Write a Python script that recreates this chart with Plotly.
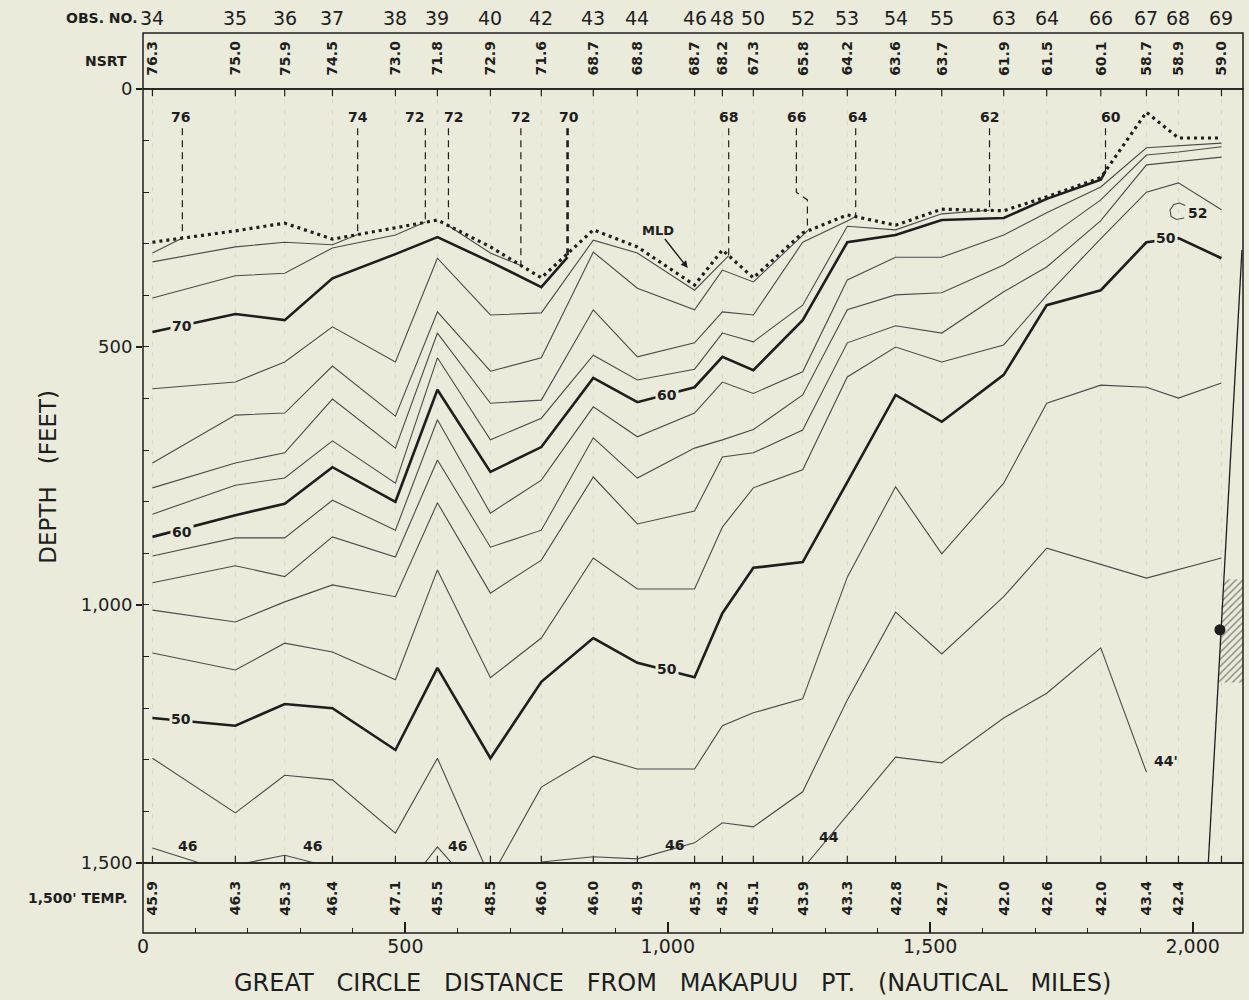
import plotly.graph_objects as go

FONT = "DejaVu Sans"
BG = "#ebebdb"
INK = "#1e1e1e"
THIN = "#4a4a4a"

# ---------------- data ----------------
OBS_NO = ["34", "35", "36", "37", "38", "39", "40", "42", "43", "44", "46", "48",
          "50", "52", "53", "54", "55", "63", "64", "66", "67", "68", "69"]
STATION_DIST = [18, 176, 270, 361, 481, 561, 662, 759, 858, 942, 1051, 1104,
                1163, 1257, 1342, 1434, 1522, 1640, 1722, 1825, 1912, 1973, 2055]
NSRT = [76.3, 75.0, 75.9, 74.5, 73.0, 71.8, 72.9, 71.6, 68.7, 68.8, 68.7, 68.2,
        67.3, 65.8, 64.2, 63.6, 63.7, 61.9, 61.5, 60.1, 58.7, 58.9, 59.0]
TEMP_1500 = [45.9, 46.3, 45.3, 46.4, 47.1, 45.5, 48.5, 46.0, 46.0, 45.9, 45.3,
             45.2, 45.1, 43.9, 43.3, 42.8, 42.7, 42.0, 42.6, 42.0, 43.4, 42.4]

# mixed layer depth (dotted)
MLD_DEPTH = [297, 275, 260, 291, 269, 254, 306, 366, 273, 306, 380, 312,
             366, 279, 244, 264, 233, 236, 209, 172, 45, 95, 95]

# isotherms below the mixed layer (distance nm, depth ft)
T76_X = [18, 75]
T76_D = [318, 289]
T74_X = [18, 176, 270, 361, 409]
T74_D = [335, 306, 297, 302, 282]
T72_X = [18, 176, 270, 361, 481, 538, None, 582, 662, 720]
T72_D = [405, 362, 357, 308, 283, 258, None, 265, 318, 342]
T70_X = [18, 176, 270, 361, 481, 561, 662, 759, 809]
T70_D = [471, 436, 448, 367, 320, 287, 335, 384, 326]
T68_X = [18, 176, 270, 361, 481, 561, 662, 759, 858, 942, 1051, 1116]
T68_D = [581, 568, 529, 461, 529, 328, 438, 434, 293, 318, 390, 323]
T66_X = [18, 176, 270, 361, 481, 561, 662, 759, 858, 942, 1051, 1104, 1163, 1266]
T66_D = [725, 632, 628, 537, 634, 432, 547, 521, 316, 386, 428, 351, 374, 275]
T64_X = [18, 176, 270, 361, 481, 561, 662, 759, 858, 942, 1051, 1104, 1163, 1257, 1342, 1358]
T64_D = [773, 725, 705, 601, 696, 473, 609, 603, 428, 519, 492, 432, 438, 297, 256, 247]
T62_X = [18, 176, 270, 361, 481, 561, 662, 759, 858, 942, 1051, 1104, 1163, 1257,
         1342, 1434, 1522, 1613]
T62_D = [824, 768, 754, 682, 764, 521, 680, 638, 516, 564, 543, 473, 490, 419,
         266, 273, 242, 235]
T60_X = [18, 176, 270, 361, 481, 561, 662, 759, 858, 942, 1051, 1104, 1163, 1257,
         1342, 1434, 1522, 1640, 1722, 1825, 1834]
T60_D = [868, 826, 804, 733, 800, 583, 742, 694, 560, 607, 578, 519, 545, 448,
         297, 283, 254, 250, 213, 176, 159]
T58_D = [905, 870, 870, 797, 855, 641, 822, 758, 616, 674, 628, 568, 590, 548,
         370, 326, 326, 283, 240, 190, 114, 110, 105]
T56_D = [957, 924, 945, 868, 907, 719, 888, 855, 676, 754, 696, 680, 660, 593,
         428, 399, 395, 341, 290, 215, 128, 122, 112]
T54_D = [1010, 1033, 994, 961, 984, 802, 977, 913, 752, 843, 818, 713, 705, 661,
         492, 459, 473, 393, 345, 255, 147, 140, 132]
T52_D = [1093, 1126, 1074, 1091, 1145, 932, 1141, 1064, 909, 969, 969, 849, 773, 738,
         558, 500, 529, 496, 400, 290, 200, 182, 234]
T50_D = [1219, 1234, 1192, 1200, 1281, 1122, 1297, 1149, 1064, 1112, 1140, 1016, 928, 917,
         762, 593, 645, 554, 419, 390, 297, 289, 328]
T48_D = [1297, 1403, 1330, 1339, 1442, 1297, 1530, 1353, 1293, 1318, 1318, 1234, 1209, 1182,
         946, 771, 901, 764, 609, 574, 578, 599, 570]
T46_X = [18, 108, None, 196, 270, 327, None, 537, 561, 588, None,
         759, 858, 942, 1051, 1104, 1163, 1257, 1342, 1434, 1522, 1640, 1722, 1912, 1973, 2055]
T46_D = [1471, 1500, None, 1500, 1485, 1500, None, 1500, 1469, 1500, None,
         1498, 1488, 1492, 1461, 1422, 1430, 1362, 1184, 1014, 1095, 984, 890, 948, 932, 909]
T44_X = [1266, 1434, 1522, 1640, 1722, 1825, 1912]
T44_D = [1500, 1295, 1306, 1219, 1171, 1083, 1324]
LOOP52_X = [1986, 1975, 1964, 1957, 1959, 1969, 1984]
LOOP52_D = [226, 221, 224, 235, 247, 253, 250]

# vertical (surface) isotherm crossings in the mixed layer
SURF_LABEL = ["76", "74", "72", "72", "72", "70", "68", "66", "64", "62", "60"]
SURF_LABEL_X = [71, 409, 517, 592, 720, 811, 1116, 1245, 1362, 1613, 1844]
SURF_X = [75, 409, 538, 582, 720, 809, 1116, 1266, 1358, 1613, 1834]
SURF_TOP = [76, 76, 76, 76, 76, 76, 76, 76, 76, 76, 76]
SURF_BOTTOM = [289, 282, 258, 265, 342, 326, 323, 275, 247, 235, 159]
JOG66_X = [1245, 1245, 1266]
JOG66_D = [76, 200, 215]

# in-line contour labels
CLABEL_TEXT = ["70", "60", "50", "60", "50", "50"]
CLABEL_X = [74, 75, 73, 998, 998, 1950]
CLABEL_D = [459, 858, 1221, 593, 1124, 289]
FLABEL_TEXT = ["46", "46", "46", "46", "44", "44'", "52"]
FLABEL_X = [85, 323, 600, 1013, 1308, 1950, 2010]
FLABEL_D = [1468, 1468, 1468, 1466, 1450, 1302, 240]

# continental slope marker
SHELF_X = [2094, 2030]
SHELF_D = [312, 1498]
HATCH_X = [2060, 2096, 2096, 2049, 2060]
HATCH_D = [950, 950, 1150, 1150, 950]
DOT_X = [2052]
DOT_D = [1048]

# ---------------- figure ----------------
fig = go.Figure()


def add_line(xs, ds, width=1.1, color=THIN, dash="solid"):
    fig.add_trace(go.Scatter(x=xs, y=ds, mode="lines",
                             line=dict(color=color, width=width, dash=dash),
                             hoverinfo="skip", showlegend=False,
                             connectgaps=False))


# faint station guides and station ticks
gx, gy, tx, ty = [], [], [], []
for d in STATION_DIST:
    gx += [d, d, None]
    gy += [20, 1480, None]
    tx += [d, d, None, d, d, None]
    ty += [0, 14, None, 1486, 1500, None]
add_line(gx, gy, 0.8, "#d3d3c3", "4px,7px")
add_line(tx, ty, 1.2, INK)

# hatch & shelf
fig.add_trace(go.Scatter(x=HATCH_X, y=HATCH_D, mode="lines", fill="toself",
                         fillcolor="rgba(0,0,0,0)",
                         fillpattern=dict(shape="/", fgcolor="#333333",
                                          bgcolor="rgba(0,0,0,0)", size=5, solidity=0.3),
                         line=dict(width=0), hoverinfo="skip", showlegend=False))
add_line(SHELF_X, SHELF_D, 1.3, INK)
fig.add_trace(go.Scatter(x=DOT_X, y=DOT_D, mode="markers",
                         marker=dict(color=INK, size=11), hoverinfo="skip",
                         showlegend=False))

# thin isotherms
for xs, ds in [(T76_X, T76_D), (T74_X, T74_D), (T72_X, T72_D), (T68_X, T68_D),
               (T66_X, T66_D), (T64_X, T64_D), (T62_X, T62_D),
               (STATION_DIST, T58_D), (STATION_DIST, T56_D), (STATION_DIST, T54_D),
               (STATION_DIST, T52_D), (STATION_DIST, T48_D), (T46_X, T46_D),
               (T44_X, T44_D), (LOOP52_X, LOOP52_D)]:
    add_line(xs, ds, 1.1, THIN)

# bold isotherms
for xs, ds in [(T70_X, T70_D), (T60_X, T60_D), (STATION_DIST, T50_D)]:
    add_line(xs, ds, 2.6, INK)

# mixed layer depth
add_line(STATION_DIST, MLD_DEPTH, 3.2, INK, "3px,4px")

# surface isotherm crossings (dashed verticals)
for i, x in enumerate(SURF_X):
    if SURF_LABEL[i] == "66":
        add_line(JOG66_X + [x], JOG66_D + [SURF_BOTTOM[i]], 1.2, INK, "7px,5px")
    else:
        w = 2.6 if SURF_LABEL[i] == "70" else 1.2
        add_line([x, x], [SURF_TOP[i], SURF_BOTTOM[i]], w, INK, "7px,5px")

annotations = []


def txt(x, y, text, size, xref="x", yref="y", angle=0, xanchor="center",
        bold=True, bg=None, color=INK):
    a = dict(x=x, y=y, xref=xref, yref=yref, text=text, showarrow=False,
             textangle=angle, xanchor=xanchor, yanchor="middle",
             font=dict(family=FONT, size=size, color=color,
                       weight="bold" if bold else "normal"))
    if bg:
        a["bgcolor"] = bg
        a["borderpad"] = 1
    annotations.append(a)


for i, lab in enumerate(SURF_LABEL):
    txt(SURF_LABEL_X[i], 54, lab, 14)
for i, lab in enumerate(CLABEL_TEXT):
    txt(CLABEL_X[i], CLABEL_D[i], lab, 14, bg=BG)
for i, lab in enumerate(FLABEL_TEXT):
    txt(FLABEL_X[i], FLABEL_D[i], lab, 14)

annotations.append(dict(x=1038, y=347, xref="x", yref="y", text="MLD",
                        showarrow=True, arrowhead=2, arrowsize=1, arrowwidth=1.4,
                        arrowcolor=INK, ax=-30, ay=-38,
                        font=dict(family=FONT, size=13, color=INK, weight="bold")))

# header / footer strips
for i, d in enumerate(STATION_DIST):
    txt(d, 1.0167, OBS_NO[i], 19, yref="paper", bold=False)
    txt(d, 0.55, f"{NSRT[i]:.1f}", 14, yref="y2", angle=-90)
for i, v in enumerate(TEMP_1500):
    txt(STATION_DIST[i], 0.5, f"{v:.1f}", 14, yref="y3", angle=-90)

txt(-0.004, 1.0167, "OBS. NO.", 14, xref="paper", yref="paper", xanchor="right")
txt(-0.013, 0.5, "NSRT", 14, xref="paper", yref="y2", xanchor="right")
txt(-0.012, 0.5, "1,500' TEMP.", 14, xref="paper", yref="y3", xanchor="right")
txt(-0.0864, 0.507, "DEPTH   (FEET)", 23, xref="paper", yref="paper", angle=-90,
    bold=False)
txt(0.481, -0.056,
    "GREAT   CIRCLE   DISTANCE   FROM   MAKAPUU   PT.   (NAUTICAL   MILES)",
    24, xref="paper", yref="paper", bold=False)

shapes = []
for yr in ["y domain", "y2 domain", "y3 domain"]:
    shapes.append(dict(type="rect", xref="x domain", yref=yr, x0=0, x1=1, y0=0, y1=1,
                       line=dict(color=INK, width=1.5), fillcolor="rgba(0,0,0,0)"))

fig.update_layout(
    width=1249, height=1000,
    margin=dict(l=143, r=6, t=33, b=67),
    paper_bgcolor=BG, plot_bgcolor=BG,
    showlegend=False,
    annotations=annotations,
    shapes=shapes,
    xaxis=dict(range=[0, 2096], anchor="y3", domain=[0, 1], dtick=500, tick0=0,
               tickformat=",", ticks="inside", ticklen=11, tickwidth=1.5,
               tickcolor=INK,
               minor=dict(dtick=100, tick0=0, ticks="inside", ticklen=5,
                          tickcolor=INK, tickwidth=1.2, showgrid=False),
               showgrid=False, zeroline=False, showline=False,
               tickfont=dict(family=FONT, size=19, color=INK)),
    yaxis=dict(domain=[0.0778, 0.9378], range=[1500, 0], dtick=500, tick0=0,
               tickformat=",", ticks="outside", ticklen=6, tickwidth=1.5,
               tickcolor=INK,
               minor=dict(dtick=100, tick0=0, ticks="inside", ticklen=6,
                          tickcolor=INK, tickwidth=1.2, showgrid=False),
               showgrid=False, zeroline=False, showline=False,
               tickfont=dict(family=FONT, size=18, color=INK)),
    yaxis2=dict(domain=[0.9378, 1], range=[0, 1], visible=False, anchor="x"),
    yaxis3=dict(domain=[0, 0.0778], range=[0, 1], visible=False, anchor="x"),
)

fig.write_html("out.html")
